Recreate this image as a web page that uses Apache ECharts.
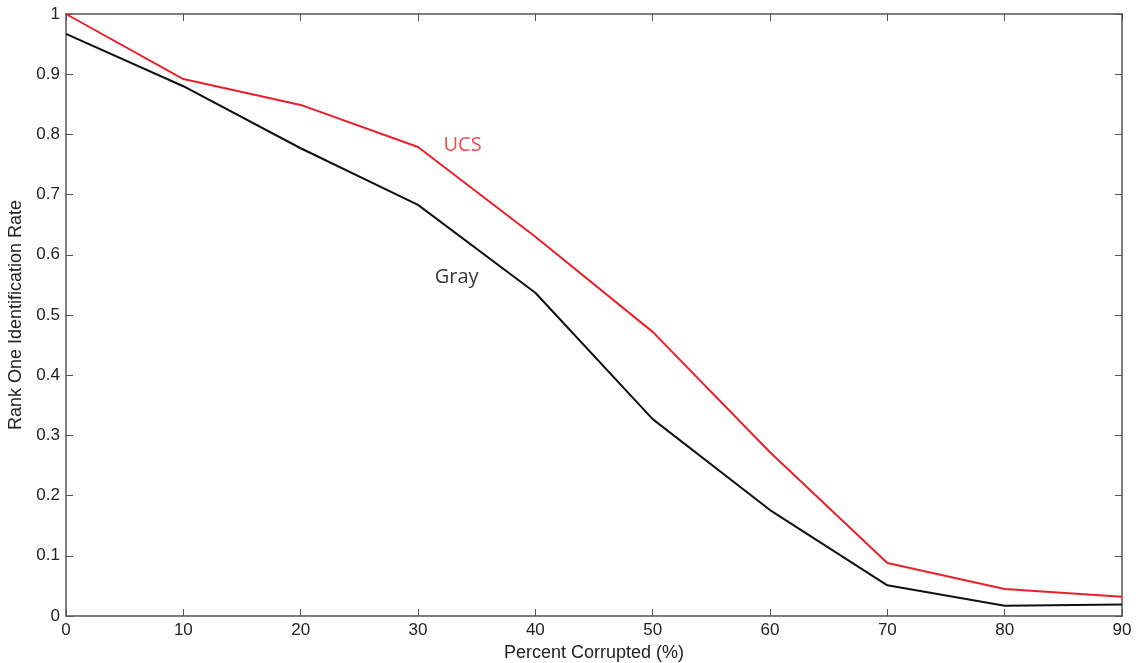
<!DOCTYPE html>
<html>
<head>
<meta charset="utf-8">
<script src="https://cdn.jsdelivr.net/npm/echarts@6/dist/echarts.min.js"></script>
<style>
html,body{margin:0;padding:0;background:#fff;}
#chart{width:1140px;height:663px;}
</style>
</head>
<body>
<div id="chart"></div>
<script>
// Percent of the probe image corrupted
const corruption = [0, 10, 20, 30, 40, 50, 60, 70, 80, 90];
// Rank-one identification rates per colour space
const ucsRate  = [1.000, 0.892, 0.849, 0.779, 0.630, 0.472, 0.272, 0.088, 0.045, 0.032];
const grayRate = [0.967, 0.880, 0.777, 0.683, 0.537, 0.327, 0.176, 0.051, 0.017, 0.019];
// In-plot series labels: [x, y, text]
const ucsTag  = [33.8, 0.782, 'UCS'];
const grayTag = [33.3, 0.563, 'Gray'];

const axisColor = '#555';
const tickFont = { fontFamily: 'Liberation Sans, Arial, sans-serif', fontSize: 17, color: '#222' };

const chart = echarts.init(document.getElementById('chart'));

function pairs(xs, ys) { return xs.map((x, i) => [x, ys[i]]); }

function tagSeries(tag, color) {
  return {
    type: 'scatter',
    symbolSize: 0,
    silent: true,
    data: [[tag[0], tag[1]]],
    label: {
      show: true, position: 'inside', formatter: tag[2],
      color: color, fontSize: 20, fontFamily: 'Open Sans, Lato, sans-serif',
      textBorderWidth: 0
    },
    z: 5
  };
}

const boxLine = { show: true, onZero: false, lineStyle: { color: axisColor, width: 1.5 } };
const boxTick = { show: true, inside: true, length: 7, lineStyle: { color: axisColor } };

chart.setOption({
  animation: false,
  grid: { left: 66, right: 18, top: 14, bottom: 47, containLabel: false, outerBoundsMode: 'none' },
  xAxis: [
    {
      type: 'value', min: 0, max: 90, interval: 10,
      name: 'Percent Corrupted (%)', nameLocation: 'middle', nameGap: 25,
      nameTextStyle: { fontFamily: 'Liberation Sans, Arial, sans-serif', fontSize: 18, color: '#222' },
      axisLine: boxLine, axisTick: boxTick,
      axisLabel: Object.assign({ margin: 6 }, tickFont),
      splitLine: { show: false }
    },
    {
      type: 'value', min: 0, max: 90, interval: 10, position: 'top',
      axisLine: boxLine, axisTick: boxTick,
      axisLabel: { show: false },
      splitLine: { show: false }
    }
  ],
  yAxis: [
    {
      type: 'value', min: 0, max: 1, interval: 0.1,
      name: 'Rank One Identification Rate', nameLocation: 'middle', nameGap: 38,
      nameTextStyle: { fontFamily: 'Liberation Sans, Arial, sans-serif', fontSize: 18, color: '#222' },
      axisLine: boxLine, axisTick: boxTick,
      axisLabel: Object.assign({ margin: 6, formatter: v => String(Math.round(v * 10) / 10) }, tickFont),
      splitLine: { show: false }
    },
    {
      type: 'value', min: 0, max: 1, interval: 0.1, position: 'right',
      axisLine: boxLine, axisTick: boxTick,
      axisLabel: { show: false },
      splitLine: { show: false }
    }
  ],
  series: [
    {
      name: 'Gray', type: 'line', data: pairs(corruption, grayRate),
      symbol: 'none', lineStyle: { color: '#111', width: 2 }, z: 3
    },
    {
      name: 'UCS', type: 'line', data: pairs(corruption, ucsRate),
      symbol: 'none', lineStyle: { color: '#e8202a', width: 2 }, z: 4
    },
    tagSeries(ucsTag, '#e8202a'),
    tagSeries(grayTag, '#000')
  ]
});
</script>
</body>
</html>
